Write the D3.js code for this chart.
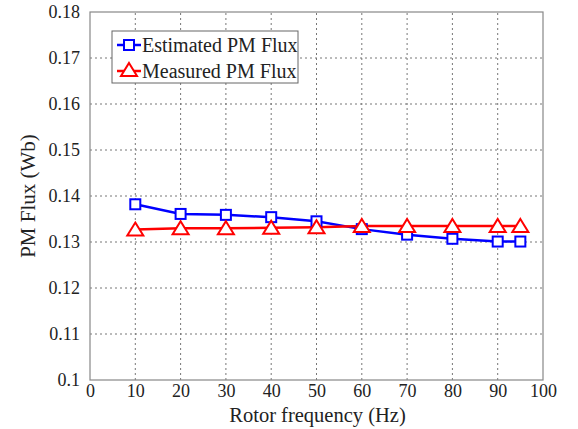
<!DOCTYPE html>
<html>
<head>
<meta charset="utf-8">
<script src="https://cdn.jsdelivr.net/npm/d3@7"></script>
<style>
  body { margin: 0; background: #fff; }
</style>
</head>
<body>
<div id="chart"></div>
<script>
const freq = [10, 20, 30, 40, 50, 60, 70, 80, 90, 95];
const estimated = [0.1382, 0.1361, 0.1359, 0.1354, 0.1345, 0.1328, 0.1316, 0.1307, 0.1301, 0.1301];
const measured = [0.1327, 0.1330, 0.1330, 0.1331, 0.1332, 0.1335, 0.1335, 0.1335, 0.1335, 0.1335];
const xTicks = [0, 10, 20, 30, 40, 50, 60, 70, 80, 90, 100];
const yTicks = [0.1, 0.11, 0.12, 0.13, 0.14, 0.15, 0.16, 0.17, 0.18];
const seriesNames = ["Estimated PM Flux", "Measured PM Flux"];

const FONT = "'Liberation Serif', 'Times New Roman', serif";
const width = 578, height = 429;
const m = {left: 90, right: 35, top: 12, bottom: 49};
const svg = d3.select("#chart").append("svg")
  .attr("width", width).attr("height", height)
  .attr("font-family", FONT);

const x = d3.scaleLinear().domain([0, 100]).range([m.left, width - m.right]);
const y = d3.scaleLinear().domain([0.1, 0.18]).range([height - m.bottom, m.top]);

// grid
svg.append("g").selectAll("line").data(xTicks.slice(1, -1)).enter().append("line")
  .attr("x1", d => x(d)).attr("x2", d => x(d))
  .attr("y1", y(0.1)).attr("y2", y(0.18))
  .attr("stroke", "#777").attr("stroke-width", 1).attr("stroke-dasharray", "2,3");
svg.append("g").selectAll("line").data(yTicks.slice(1, -1)).enter().append("line")
  .attr("y1", d => y(d)).attr("y2", d => y(d))
  .attr("x1", x(0)).attr("x2", x(100))
  .attr("stroke", "#777").attr("stroke-width", 1).attr("stroke-dasharray", "2,3");

// frame
svg.append("rect")
  .attr("x", x(0)).attr("y", y(0.18))
  .attr("width", x(100) - x(0)).attr("height", y(0.1) - y(0.18))
  .attr("fill", "none").attr("stroke", "#888").attr("stroke-width", 1.2);

// axes
const xAxis = svg.append("g").attr("transform", `translate(0,${y(0.1)})`)
  .call(d3.axisBottom(x).tickValues(xTicks).tickSize(0).tickPadding(4).tickFormat(d3.format("d")));
const yAxis = svg.append("g").attr("transform", `translate(${x(0)},0)`)
  .call(d3.axisLeft(y).tickValues(yTicks).tickSize(0).tickPadding(10).tickFormat(d => d === 0.1 ? "0.1" : d3.format(".2f")(d)));
[xAxis, yAxis].forEach(g => {
  g.attr("font-family", FONT).attr("font-size", 18);
  g.select(".domain").remove();
  g.selectAll("text").attr("fill", "#222");
});

svg.append("text").attr("x", (x(0) + x(100)) / 2 + 1).attr("y", 422)
  .attr("text-anchor", "middle").attr("font-size", 20.5).attr("fill", "#222").text("Rotor frequency (Hz)");
svg.append("text").attr("transform", `translate(35,${(y(0.1) + y(0.18)) / 2}) rotate(-90)`)
  .attr("text-anchor", "middle").attr("font-size", 21).attr("fill", "#222").text("PM Flux (Wb)");

const line = d3.line().x((d, i) => x(freq[i])).y(d => y(d));

function square(g, cx, cy, color) {
  g.append("rect").attr("x", cx - 5).attr("y", cy - 5).attr("width", 10).attr("height", 10)
    .attr("fill", "#fff").attr("stroke", color).attr("stroke-width", 2);
}
function triangle(g, cx, cy, color) {
  g.append("path").attr("d", `M${cx},${cy - 7}L${cx + 8},${cy + 6}L${cx - 8},${cy + 6}Z`)
    .attr("fill", "#fff").attr("stroke", color).attr("stroke-width", 2);
}

svg.append("path").datum(estimated).attr("d", line)
  .attr("fill", "none").attr("stroke", "#0000ff").attr("stroke-width", 2.5);
svg.append("path").datum(measured).attr("d", line)
  .attr("fill", "none").attr("stroke", "#ff0000").attr("stroke-width", 2.5);

const gm = svg.append("g");
estimated.forEach((v, i) => square(gm, x(freq[i]), y(v), "#0000ff"));
measured.forEach((v, i) => triangle(gm, x(freq[i]), y(v), "#ff0000"));

// legend
const lg = svg.append("g");
lg.append("rect").attr("x", 112).attr("y", 31).attr("width", 186).attr("height", 52)
  .attr("fill", "#fff").attr("stroke", "#666").attr("stroke-width", 1);
const colors = ["#0000ff", "#ff0000"];
seriesNames.forEach((name, i) => {
  const yy = 45 + i * 26;
  lg.append("line").attr("x1", 117).attr("x2", 141).attr("y1", yy).attr("y2", yy)
    .attr("stroke", colors[i]).attr("stroke-width", 2.5);
  if (i === 0) square(lg, 129, yy, colors[i]); else triangle(lg, 129, yy - 1, colors[i]);
  lg.append("text").attr("x", 142).attr("y", yy + 6.5).attr("font-size", 20)
    .attr("fill", "#222").text(name);
});
</script>
</body>
</html>
